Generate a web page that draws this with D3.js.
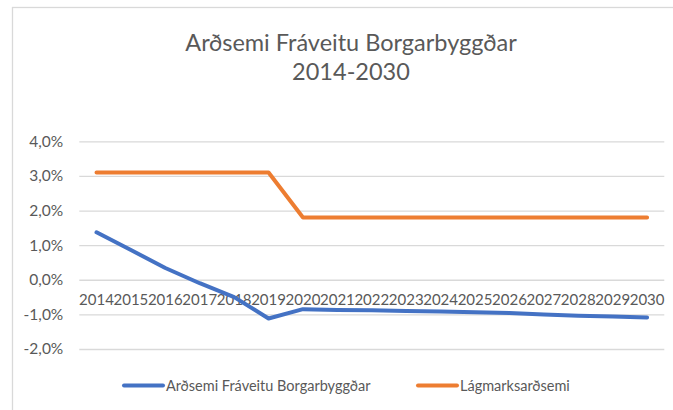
<!DOCTYPE html>
<html>
<head>
<meta charset="utf-8">
<script src="https://cdn.jsdelivr.net/npm/d3@7"></script>
<style>
  body { margin: 0; background: #fff; }
  svg { display: block; font-family: Lato, "Open Sans", sans-serif; }
</style>
</head>
<body>
<script>
// chart data
var years = ["2014", "2015", "2016", "2017", "2018", "2019", "2020", "2021", "2022",
             "2023", "2024", "2025", "2026", "2027", "2028", "2029", "2030"];
var ardsemi = [1.37, 0.86, 0.34, -0.10, -0.50, -1.12, -0.85, -0.87, -0.88,
               -0.90, -0.92, -0.94, -0.96, -1.00, -1.04, -1.06, -1.09];
var lagmark = [3.1, 3.1, 3.1, 3.1, 3.1, 3.1, 1.8, 1.8, 1.8,
               1.8, 1.8, 1.8, 1.8, 1.8, 1.8, 1.8, 1.8];
var yTicks = [-2, -1, 0, 1, 2, 3, 4];
var seriesNames = ["Arðsemi Fráveitu Borgarbyggðar", "Lágmarksarðsemi"];
var titleLines = ["Arðsemi Fráveitu Borgarbyggðar", "2014-2030"];

var width = 673;
var height = 410;
var plot = { left: 79.3, right: 664.3, top: 141.3, bottom: 349 };
var colors = ["#4472C4", "#ED7D31"];
var textColor = "#595959";

var svg = d3.select("body").append("svg")
            .attr("width", width)
            .attr("height", height);

// chart area border (runs off the right and bottom of the picture)
svg.append("rect")
    .attr("x", 12.5)
    .attr("y", 7.5)
    .attr("width", 690)
    .attr("height", 430)
    .attr("fill", "none")
    .attr("stroke", "#d9d9d9")
    .attr("stroke-width", 1.3);

var x = d3.scaleBand()
          .domain(years)
          .range([plot.left, plot.right]);

var y = d3.scaleLinear()
          .domain([-2, 4])
          .range([plot.bottom, plot.top]);

var fmt = function(v) { return d3.format(".1f")(v).replace(".", ",").replace("−", "-") + "%"; };

// gridlines + y labels
var yAxis = d3.axisLeft(y)
              .tickValues(yTicks)
              .tickSize(-(plot.right - plot.left))
              .tickPadding(16)
              .tickFormat(fmt);

var yg = svg.append("g")
            .attr("transform", "translate(" + plot.left + ",0)")
            .call(yAxis);
yg.select(".domain").remove();
yg.selectAll(".tick line").attr("stroke", "#d9d9d9").attr("stroke-width", 1.3);
yg.selectAll(".tick text")
    .attr("fill", textColor)
    .attr("font-size", "15.5px")
    .attr("font-family", "Lato, sans-serif");

// x labels sit just under the zero line
var xAxis = d3.axisBottom(x).tickSize(0).tickPadding(15);
var xg = svg.append("g")
            .attr("transform", "translate(0," + y(0) + ")")
            .call(xAxis);
xg.select(".domain").remove();
xg.selectAll(".tick text")
    .attr("fill", textColor)
    .attr("font-size", "15px")
    .attr("font-family", "Lato, sans-serif");

// lines
var line = d3.line()
             .x(function(d, i) { return x(years[i]) + x.bandwidth() / 2; })
             .y(function(d) { return y(d); });

[ardsemi, lagmark].forEach(function(series, k) {
    svg.append("path")
        .datum(series)
        .attr("d", line)
        .attr("fill", "none")
        .attr("stroke", colors[k])
        .attr("stroke-width", 4)
        .attr("stroke-linecap", "round")
        .attr("stroke-linejoin", "round");
});

// title
svg.append("text")
    .attr("x", 351)
    .attr("y", 51)
    .attr("text-anchor", "middle")
    .attr("fill", textColor)
    .attr("font-size", "23.5px")
    .selectAll("tspan")
    .data(titleLines)
    .enter()
    .append("tspan")
    .attr("x", 351)
    .attr("dy", function(d, i) { return i === 0 ? 0 : 29; })
    .text(function(d) { return d; });

// legend
var legendItems = [
    { name: seriesNames[0], color: colors[0], x1: 124, x2: 163 },
    { name: seriesNames[1], color: colors[1], x1: 418, x2: 457 }
];
var legend = svg.selectAll(".legend")
                .data(legendItems)
                .enter()
                .append("g")
                .attr("class", "legend");

legend.append("line")
    .attr("x1", function(d) { return d.x1; })
    .attr("x2", function(d) { return d.x2; })
    .attr("y1", 385.5)
    .attr("y2", 385.5)
    .attr("stroke", function(d) { return d.color; })
    .attr("stroke-width", 4)
    .attr("stroke-linecap", "round");

legend.append("text")
    .attr("x", function(d) { return d.x2 + 3; })
    .attr("y", 390.5)
    .attr("fill", textColor)
    .attr("font-size", "14.5px")
    .text(function(d) { return d.name; });
</script>
</body>
</html>
